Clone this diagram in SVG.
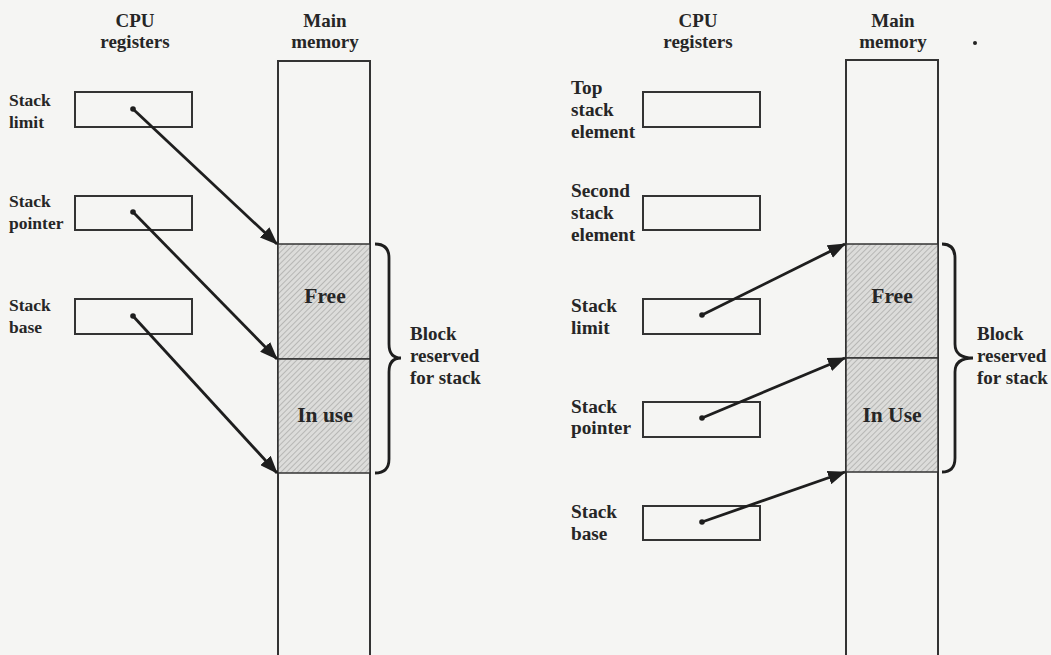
<svg xmlns="http://www.w3.org/2000/svg" width="1051" height="655" viewBox="0 0 1051 655">
<style>
text{font-family:"Liberation Serif","Times New Roman",serif;font-weight:bold;font-size:17.5px;fill:#262626}
.c{text-anchor:middle}
.h{font-size:19px}
.r{font-size:19.3px}
.b{font-size:19px}
.big{font-size:21.5px}
.reg{fill:none;stroke:#333;stroke-width:2}
.mem{fill:none;stroke:#333;stroke-width:2}
.stk{fill:url(#hatch);stroke:#333;stroke-width:1.5}
.arr{stroke:#1e1e1e;stroke-width:2.8;fill:none;marker-end:url(#ah)}
.brace{fill:none;stroke:#1e1e1e;stroke-width:2.8}
.dot{fill:#1e1e1e}
</style>
<defs>
<pattern id="hatch" width="4" height="4" patternUnits="userSpaceOnUse" patternTransform="rotate(45)">
<rect width="4" height="4" fill="#dcdcda"/>
<line x1="0" y1="0" x2="0" y2="4" stroke="#a8a8a6" stroke-width="1.4"/>
</pattern>
<marker id="ah" markerWidth="18" markerHeight="14" refX="17" refY="7" orient="auto" markerUnits="userSpaceOnUse">
<path d="M0,0 L18,7 L0,14 z" fill="#1e1e1e"/>
</marker>
</defs>
<rect width="1051" height="655" fill="#f5f5f3"/>

<g id="left-panel">
<g id="left-headers">
<text class="c h" x="135" y="27">CPU</text>
<text class="c h" x="135" y="48">registers</text>
<text class="c h" x="325" y="27">Main</text>
<text class="c h" x="325" y="48">memory</text>
</g>
<g id="left-memory">
<rect class="mem" x="278" y="61" width="92" height="600"/>
<rect class="stk" x="278" y="244" width="92" height="115"/>
<rect class="stk" x="278" y="359" width="92" height="114"/>
<text class="c big" x="325" y="303">Free</text>
<text class="c big" x="325" y="422">In use</text>
</g>
<g id="left-stack-limit">
<text x="9" y="106">Stack</text><text x="9" y="128">limit</text>
<rect class="reg" x="75" y="92" width="117" height="35"/>
<circle class="dot" cx="133" cy="109" r="2.8"/>
</g>
<g id="left-stack-pointer">
<text x="9" y="207">Stack</text><text x="9" y="229">pointer</text>
<rect class="reg" x="75" y="196" width="117" height="34"/>
<circle class="dot" cx="133" cy="212" r="2.8"/>
</g>
<g id="left-stack-base">
<text x="9" y="311">Stack</text><text x="9" y="333">base</text>
<rect class="reg" x="75" y="299" width="117" height="35"/>
<circle class="dot" cx="133" cy="316" r="2.8"/>
</g>
<g id="left-block">
<path class="brace" d="M375,244 Q389,244 389,258 L389,344 Q389,358 401,358 Q389,358 389,372 L389,459 Q389,473 375,473"/>
<text class="b" x="410" y="340">Block</text>
<text class="b" x="410" y="362">reserved</text>
<text class="b" x="410" y="384">for stack</text>
</g>
</g>

<g id="right-panel">
<g id="right-headers">
<text class="c h" x="698" y="27">CPU</text>
<text class="c h" x="698" y="48">registers</text>
<text class="c h" x="893" y="27">Main</text>
<text class="c h" x="893" y="48">memory</text>
<circle cx="975" cy="43" r="2" fill="#222"/>
</g>
<g id="right-memory">
<rect class="mem" x="846" y="60" width="92" height="600"/>
<rect class="stk" x="846" y="244" width="92" height="114"/>
<rect class="stk" x="846" y="358" width="92" height="114"/>
<text class="c big" x="892" y="303">Free</text>
<text class="c big" x="892" y="422">In Use</text>
</g>
<g id="right-top">
<text class="r" x="571" y="94">Top</text><text class="r" x="571" y="116">stack</text><text class="r" x="571" y="138">element</text>
<rect class="reg" x="643" y="92" width="117" height="35"/>
</g>
<g id="right-second">
<text class="r" x="571" y="197">Second</text><text class="r" x="571" y="219">stack</text><text class="r" x="571" y="241">element</text>
<rect class="reg" x="643" y="196" width="117" height="34"/>
</g>
<g id="right-stack-limit">
<text class="r" x="571" y="312">Stack</text><text class="r" x="571" y="334">limit</text>
<rect class="reg" x="643" y="299" width="117" height="35"/>
<circle class="dot" cx="702" cy="315" r="2.8"/>
</g>
<g id="right-stack-pointer">
<text class="r" x="571" y="413">Stack</text><text class="r" x="571" y="434">pointer</text>
<rect class="reg" x="643" y="402" width="117" height="35"/>
<circle class="dot" cx="702" cy="418" r="2.8"/>
</g>
<g id="right-stack-base">
<text class="r" x="571" y="518">Stack</text><text class="r" x="571" y="540">base</text>
<rect class="reg" x="643" y="506" width="117" height="34"/>
<circle class="dot" cx="702" cy="522" r="2.8"/>
</g>
<g id="right-block">
<path class="brace" d="M942,244 Q955,244 955,258 L955,344 Q955,358 973,358 Q955,358 955,372 L955,458 Q955,472 942,472"/>
<text class="b" x="977" y="340">Block</text>
<text class="b" x="977" y="362">reserved</text>
<text class="b" x="977" y="384">for stack</text>
</g>
</g>

<g id="connectors">
<line class="arr" x1="133" y1="109" x2="277" y2="244"/>
<line class="arr" x1="133" y1="212" x2="277" y2="359"/>
<line class="arr" x1="133" y1="316" x2="277" y2="473"/>
<line class="arr" x1="702" y1="315" x2="845" y2="244"/>
<line class="arr" x1="702" y1="418" x2="845" y2="358"/>
<line class="arr" x1="702" y1="522" x2="845" y2="472"/>
</g>
</svg>
